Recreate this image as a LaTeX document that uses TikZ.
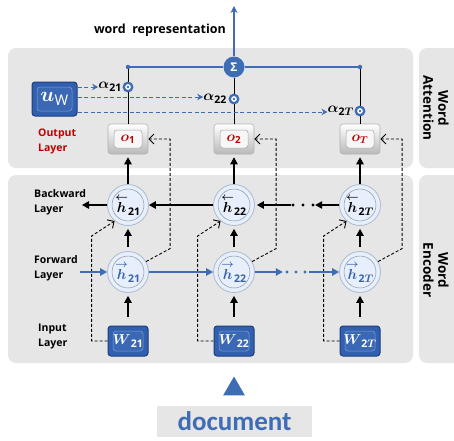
\documentclass[tikz,border=0pt]{standalone}
\usepackage{amsmath}
\usepackage{fontspec}
\setmainfont{Open Sans}
\newfontfamily\docfont{Carlito}
\usetikzlibrary{arrows.meta,calc,shapes.geometric}
\definecolor{panelgray}{HTML}{E6E6E6}
\definecolor{lineblue}{HTML}{3F6DB5}
\definecolor{boxblue}{HTML}{3160B0}
\definecolor{boxdark}{HTML}{1D3D7A}
\definecolor{circfill}{HTML}{E6EFFB}
\definecolor{circedge}{HTML}{AEBBCD}
\definecolor{hblue}{HTML}{3A62A8}
\definecolor{outred}{HTML}{C00000}
\begin{document}
\begin{tikzpicture}[x=1pt,y=-1pt,
  panel/.style={fill=panelgray,rounded corners=8pt},
  lbl/.style={font=\bfseries\fontsize{10.5}{15}\selectfont,align=left,anchor=west,inner sep=0pt},
  hc/.style={circle,minimum size=41pt,inner sep=0pt,fill=circfill,draw=circedge,line width=0.8pt,
     font=\fontsize{15}{16}\selectfont,
     path picture={\draw[circedge!80!black,line width=0.5pt] (path picture bounding box.center) circle (16pt);}},
  wbox/.style={rectangle,rounded corners=3pt,minimum width=40pt,minimum height=30pt,inner sep=0pt,
     fill=boxblue,draw=boxdark,line width=1pt,text=white,font=\fontsize{15}{16}\selectfont,
     path picture={\draw[boxblue!60!white,line width=0.5pt,fill=boxblue!95!white]
        ([shift={(5pt,-5pt)}]path picture bounding box.north west) rectangle
        ([shift={(-5pt,5pt)}]path picture bounding box.south east);}},
  obox/.style={rectangle,rounded corners=3pt,minimum width=40pt,minimum height=30pt,inner sep=0pt,
     top color=white,bottom color=gray!55,draw=gray!60,line width=0.6pt,text=outred,font=\fontsize{14}{15}\selectfont,
     path picture={\draw[gray!70,line width=0.5pt,fill=gray!6]
        ([shift={(6pt,-6pt)}]path picture bounding box.north west) rectangle
        ([shift={(-6pt,6pt)}]path picture bounding box.south east);}},
  att/.style={circle,minimum size=8.5pt,inner sep=0pt,fill=white,draw=lineblue,line width=2.3pt,
     path picture={\fill[lineblue] (path picture bounding box.center) circle (1.4pt);}},
  jdot/.style={circle,minimum size=4.5pt,inner sep=0pt,fill=lineblue},
  alab/.style={anchor=east,inner sep=0pt,font=\fontsize{15}{16}\selectfont},
  karr/.style={line width=1.1pt,-{Triangle[length=7pt,width=7.5pt]}},
  barr/.style={lineblue,line width=1.1pt,-{Triangle[length=7pt,width=7.5pt]}},
  kdash/.style={dashed,dash pattern=on 3pt off 2pt,line width=0.9pt,-{Straight Barb[length=5pt,width=10pt]}},
  bdash/.style={lineblue,dashed,dash pattern=on 4pt off 2.5pt,line width=1pt,-{Stealth[length=6pt,width=6.5pt]}},
  side/.style={rotate=-90,font=\bfseries\fontsize{13.5}{15}\selectfont,align=center,inner sep=0pt}
]
\useasboundingbox (0,0) rectangle (454,440);
% panels
\fill[panel] (8,48) rectangle (413,168);
\fill[panel] (8,175) rectangle (413,363);
\fill[panel] (419,48) rectangle (466,168);
\fill[panel] (419,175) rectangle (466,363);
\node[side] (sideA) at (436,108) {Word\\Attention};
\node[side] (sideE) at (436,270) {Word\\Encoder};

% output boxes
\node[obox] (o1) at (128,139) {$\boldsymbol{o}_{\mathbf{1}}$};
\node[obox] (o2) at (234,139) {$\boldsymbol{o}_{\mathbf{2}}$};
\node[obox] (oT) at (360,139) {$\boldsymbol{o}_{\boldsymbol{T}}$};

% backward
\node[hc] (b1) at (128,205) {$\overset{\boldsymbol{\leftarrow}}{\boldsymbol{h}}_{\mathbf{21}}$};
\node[hc] (b2) at (234,205) {$\overset{\boldsymbol{\leftarrow}}{\boldsymbol{h}}_{\mathbf{22}}$};
\node[hc] (bT) at (360,205) {$\overset{\boldsymbol{\leftarrow}}{\boldsymbol{h}}_{\mathbf{2}\boldsymbol{T}}$};
% forward
\node[hc,text=hblue] (f1) at (128,272) {$\overset{\boldsymbol{\rightarrow}}{\boldsymbol{h}}_{\mathbf{21}}$};
\node[hc,text=hblue] (f2) at (234,272) {$\overset{\boldsymbol{\rightarrow}}{\boldsymbol{h}}_{\mathbf{22}}$};
\node[hc,text=hblue] (fT) at (360,272) {$\overset{\boldsymbol{\rightarrow}}{\boldsymbol{h}}_{\mathbf{2}\boldsymbol{T}}$};
% input
\node[wbox] (w1) at (128,341) {$\boldsymbol{W}_{\mathbf{21}}$};
\node[wbox] (w2) at (234,341) {$\boldsymbol{W}_{\mathbf{22}}$};
\node[wbox] (wT) at (360,341) {$\boldsymbol{W}_{\mathbf{2}\boldsymbol{T}}$};

% u_w
\node[wbox,minimum width=45pt,minimum height=34pt,font=\fontsize{21}{22}\selectfont] (uw) at (54.5,99) {$\boldsymbol{u}_{\mathbf{\mathrm{W}}}$};

% attention
\node[circle,fill=lineblue,minimum size=21pt,inner sep=0pt,text=white,font=\bfseries\fontsize{12}{12}\selectfont] (sum) at (234,67) {Σ};
\node[jdot] (dl) at (128,67) {};
\node[jdot] (dr) at (360,67) {};
\node[att] (a1) at (128,87) {};
\node[att] (a2) at (234,99) {};
\node[att] (aT) at (360,111) {};
\node[alab] (al1) at (122,87) {$\boldsymbol{\alpha}_{\mathbf{21}}$};
\node[alab] (al2) at (227,99) {$\boldsymbol{\alpha}_{\mathbf{22}}$};
\node[alab] (alT) at (354,111) {$\boldsymbol{\alpha}_{\mathbf{2}\boldsymbol{T}}$};
\coordinate (top) at (234,6);
\node[anchor=east,inner sep=0pt,font=\bfseries\fontsize{12.5}{14}\selectfont] (wr) at (226,30) {word\ \ representation};

\draw[lineblue,line width=1.1pt,-{Stealth[length=7pt,width=7pt]}] (sum) -- (top);
\draw[lineblue,line width=1.1pt] (dl) -- (sum) -- (dr);
\draw[line width=1pt] (dl) -- (a1) -- (o1);
\draw[line width=1pt] (sum) -- (a2) -- (o2);
\draw[line width=1pt] (dr) -- (aT) -- (oT);
\draw[bdash] (uw.east |- al1.west) -- (al1.west);
\draw[bdash] (uw.east |- 0,97) -- (al2.west |- 0,97);
\draw[bdash] (uw.east |- 0,112) -- (alT.west |- 0,112);

% labels
\node[lbl,text=outred] (lo) at (38,141.5) {Output\\Layer};
\node[lbl] (lb) at (34,202.5) {Backward\\Layer};
\node[lbl] (lf) at (34,268.5) {Forward\\Layer};
\node[lbl] (li) at (38,336.5) {Input\\Layer};

% vertical arrows
\foreach \c in {1,2,T}{
  \draw[karr,shorten <=9pt,shorten >=3pt] (w\c) -- (f\c);
  \draw[karr,shorten <=4pt,shorten >=3pt] (f\c) -- (b\c);
  \draw[karr,shorten >=3pt] (b\c) -- (o\c);
  \draw[kdash] (f\c.30) -- ++(24,-13) |- (o\c.east);
  \draw[kdash] (w\c.west) -| ($(b\c.230)+(-23,15)$) -- (b\c.230);
}

% backward chain
\coordinate (bend) at (82,205);
\node[inner sep=0pt,minimum width=24pt,minimum height=6pt] (bdots) at (303,205) {};
\foreach \k in {-10,0,10} \fill ($(bdots.center)+(\k pt,0)$) circle (1.6pt);
\draw[karr] (b2) -- (b1);
\draw[karr] (b1) -- (bend);
\draw[karr] (bT) -- (bdots.east);
\draw[karr,shorten >=2pt] (bdots.west) -- (b2);

% forward chain
\coordinate (fstart) at (80,272);
\node[inner sep=0pt,minimum width=26pt,minimum height=6pt] (fdots) at (296,272) {};
\foreach \k in {-9,0,9} \fill[lineblue] ($(fdots.center)+(\k pt,0)$) circle (1.6pt);
\draw[barr] (fstart) -- (f1);
\draw[barr] (f1) -- (f2);
\draw[barr] (f2) -- (fdots.west);
\draw[barr] (fdots.east) -- (fT);

% document
\node[fill=panelgray,minimum width=155pt,minimum height=31pt,inner sep=0pt,text=lineblue,
  font=\docfont\bfseries\fontsize{27}{28}\selectfont] (doc) at (234.5,421.5) {document};
\node[regular polygon,regular polygon sides=3,fill=lineblue,inner sep=0pt,minimum size=25pt] (tri) at (234,389) {};
\end{tikzpicture}
\end{document}
